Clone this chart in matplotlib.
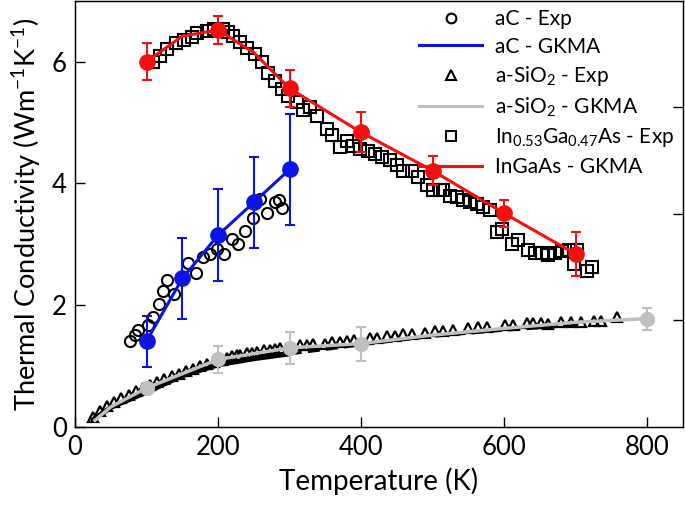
import matplotlib
matplotlib.use("Agg")
import matplotlib.pyplot as plt
from matplotlib.lines import Line2D

plt.rcParams['font.family'] = ['Lato', 'DejaVu Sans']
plt.rcParams['mathtext.fontset'] = 'custom'
plt.rcParams['mathtext.rm'] = 'Lato'
plt.rcParams['mathtext.it'] = 'Lato'

# ---- aC experiment (circles)
ac_exp_T = [77, 84, 88.5, 102.5, 109.5, 118, 123.5, 129, 139, 158.5, 169, 179.5, 189, 198,
            209, 219, 228.5, 238, 248.5, 259, 269, 280, 285, 289]
ac_exp_k = [1.41, 1.51, 1.59, 1.67, 1.81, 2.02, 2.24, 2.42, 2.18, 2.69, 2.53, 2.80, 2.84, 2.93,
            2.84, 3.09, 3.01, 3.22, 3.44, 3.75, 3.51, 3.69, 3.73, 3.60]

# ---- aC GKMA
ac_gk_T = [100, 150, 200, 250, 300]
ac_gk_k = [1.41, 2.44, 3.15, 3.69, 4.23]
ac_gk_err = [0.42, 0.66, 0.76, 0.75, 0.91]

# ---- a-SiO2 experiment (triangles)
si_exp_T = [25, 35, 45, 55, 65, 75, 85, 95, 105, 115, 125, 135, 145, 155, 165, 175, 185, 195,
            205, 212, 219, 226, 231, 240, 247, 254, 264, 273, 280, 287,
            315, 324, 333, 350, 359, 371, 380, 390, 412, 422, 436, 447, 459, 471, 489,
            504, 515, 529, 550, 564, 576, 601, 613, 632, 641, 652, 662, 680, 694, 708,
            725, 736, 758]
si_exp_k = [0.17, 0.26, 0.34, 0.41, 0.47, 0.53, 0.59, 0.64, 0.69, 0.74, 0.79, 0.83, 0.87, 0.92,
            0.96, 1.00, 1.04, 1.07, 1.10, 1.13, 1.17, 1.18, 1.19, 1.21, 1.22, 1.23, 1.26, 1.27,
            1.28, 1.29,
            1.34, 1.34, 1.36, 1.37, 1.39, 1.39, 1.41, 1.43, 1.46, 1.46, 1.49, 1.50, 1.52, 1.52,
            1.55, 1.58, 1.58, 1.60, 1.63, 1.64, 1.64, 1.68, 1.68, 1.70, 1.70, 1.70, 1.69,
            1.72, 1.72, 1.72, 1.74, 1.74, 1.80]

# second a-SiO2 experimental trace (dense band at low T, dashed above), not in legend
si_exp2_T = [25, 50, 100, 150, 200, 250, 300, 400, 500, 600, 700]
si_exp2_k = [0.12, 0.32, 0.57, 0.84, 1.02, 1.12, 1.20, 1.35, 1.49, 1.59, 1.67]

# ---- a-SiO2 GKMA
si_gk_T = [28, 50, 100, 200, 300, 400, 500, 600, 700, 800]
si_gk_k = [0.11, 0.33, 0.64, 1.11, 1.30, 1.37, 1.51, 1.62, 1.72, 1.78]
si_gk_mark_T = [100, 200, 300, 400, 800]
si_gk_mark_k = [0.64, 1.11, 1.30, 1.37, 1.78]
si_gk_err = [0.05, 0.22, 0.26, 0.28, 0.18]

# ---- InGaAs experiment (squares)
ig_exp_T = [109.5, 119, 129, 141, 152.5, 163, 171, 184, 194, 207.5, 214.5, 221.5, 231, 241, 252,
            261, 270, 280, 289, 298, 310, 319, 329, 338, 352, 359, 371, 380, 389, 399, 410,
            420, 429, 440.5, 450, 459, 471, 480, 491.5, 501, 510.5, 515, 524.5, 534, 543,
            552.5, 562, 571, 580.5, 590, 596.5, 610.5, 620, 634, 643, 653, 662, 671, 681,
            690, 697, 701.5, 715.5, 722.5]
ig_exp_k = [5.99, 6.10, 6.21, 6.30, 6.35, 6.41, 6.47, 6.51, 6.54, 6.54, 6.48, 6.43, 6.32, 6.23,
            6.13, 5.99, 5.82, 5.69, 5.55, 5.44, 5.33, 5.20, 5.25, 5.10, 4.90, 4.79, 4.60, 4.69,
            4.61, 4.57, 4.54, 4.49, 4.43, 4.38, 4.30, 4.21, 4.21, 4.10, 3.97, 3.90, 3.90, 3.89,
            3.80, 3.78, 3.73, 3.69, 3.67, 3.61, 3.56, 3.20, 3.26, 3.01, 3.07, 2.90, 2.86, 2.85,
            2.83, 2.86, 2.89, 2.90, 2.68, 2.90, 2.56, 2.62]

# ---- InGaAs GKMA
ig_gk_T = [100, 150, 200, 250, 300, 400, 500, 600, 700]
ig_gk_k = [6.00, 6.42, 6.52, 6.15, 5.56, 4.84, 4.21, 3.51, 2.84]
ig_gk_mark_T = [100, 200, 300, 400, 500, 600, 700]
ig_gk_mark_k = [6.00, 6.52, 5.56, 4.84, 4.21, 3.51, 2.84]
ig_gk_err = [0.30, 0.23, 0.30, 0.33, 0.24, 0.22, 0.36]

BLUE = '#0a14e6'
RED = '#f50f0f'
GRAY = '#c0c0c0'

fig = plt.figure(figsize=(6.85, 5.11), dpi=100)
ax = fig.add_axes([0.1095, 0.1644, 0.8875, 0.834])

# a-SiO2
ax.plot(si_exp2_T[:7], si_exp2_k[:7], color='black', lw=3.5, solid_capstyle='round', zorder=2)
ax.plot(si_exp2_T[6:], si_exp2_k[6:], color='black', lw=2.2, ls=(0, (4, 2)), zorder=2)
ax.plot(si_exp_T, si_exp_k, ls='none', marker='^', ms=6.5, mfc='none', mec='black', mew=1.6, zorder=3)
ax.plot(si_gk_T, si_gk_k, color=GRAY, lw=2.5, zorder=4)
ax.errorbar(si_gk_mark_T, si_gk_mark_k, yerr=si_gk_err, fmt='o', color=GRAY, ms=10,
            elinewidth=1.5, capsize=3.5, capthick=1.5, zorder=5)

# aC
ax.plot(ac_exp_T, ac_exp_k, ls='none', marker='o', ms=8, mfc='none', mec='black', mew=1.5, zorder=3)
ax.plot(ac_gk_T, ac_gk_k, color=BLUE, lw=2.2, zorder=4)
ax.errorbar(ac_gk_T, ac_gk_k, yerr=ac_gk_err, fmt='o', color=BLUE, ms=11,
            elinewidth=1.5, capsize=3.5, capthick=1.5, zorder=5)

# InGaAs
ax.plot(ig_exp_T, ig_exp_k, ls='none', marker='s', ms=8, mfc='none', mec='black', mew=1.5, zorder=3)
ax.plot(ig_gk_T, ig_gk_k, color=RED, lw=2.2, zorder=4)
ax.errorbar(ig_gk_mark_T, ig_gk_mark_k, yerr=ig_gk_err, fmt='o', color=RED, ms=11,
            elinewidth=1.5, capsize=3.5, capthick=1.5, zorder=5)

ax.set_xlim(0, 850)
ax.set_ylim(0, 7)
ax.set_xticks([0, 200, 400, 600, 800])
ax.set_yticks([0, 2, 4, 6])
ax.tick_params(direction='in', length=7, width=1, labelsize=18.5, pad=6)
for s in ax.spines.values():
    s.set_linewidth(1)

ax2 = ax.twinx()
ax2.set_ylim(0, 8)
ax2.set_yticks([2, 4, 6])
ax2.set_yticklabels([])
ax2.tick_params(direction='in', length=7, width=1)

ax.set_xlabel('Temperature (K)', fontsize=20, labelpad=5)
ax.set_ylabel('Thermal Conductivity (Wm$^{-1}$K$^{-1}$)', fontsize=19.5, labelpad=6)

handles = [
    Line2D([], [], ls='none', marker='o', ms=7, mfc='none', mec='black', mew=1.5),
    Line2D([], [], color=BLUE, lw=2.2),
    Line2D([], [], ls='none', marker='^', ms=7, mfc='none', mec='black', mew=1.5),
    Line2D([], [], color=GRAY, lw=2.2),
    Line2D([], [], ls='none', marker='s', ms=7, mfc='none', mec='black', mew=1.5),
    Line2D([], [], color=RED, lw=2.2),
]
labels = ['aC - Exp', 'aC - GKMA', 'a-SiO$_2$ - Exp', 'a-SiO$_2$ - GKMA',
          'In$_{0.53}$Ga$_{0.47}$As - Exp', 'InGaAs - GKMA']
ax.legend(handles, labels, loc='upper right', bbox_to_anchor=(1.0, 1.0), frameon=False,
          fontsize=15, handlelength=3.0, handletextpad=0.65, labelspacing=0.36,
          borderaxespad=0.0)

fig.savefig('out.png', dpi=100)
